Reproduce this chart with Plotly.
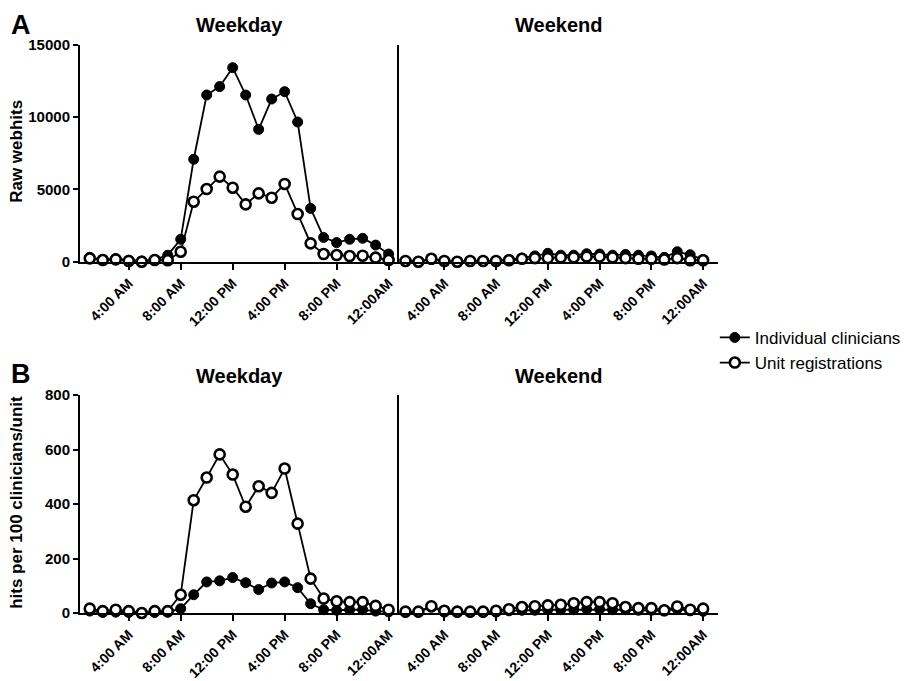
import plotly.graph_objects as go

hours = list(range(1, 25))
tick_hours = [4, 8, 12, 16, 20, 24]
tick_labels = ["4:00 AM", "8:00 AM", "12:00 PM", "4:00 PM", "8:00 PM", "12:00AM"]
series_names = ["Individual clinicians", "Unit registrations"]
period_names = ["Weekday", "Weekend"]
raw_ticks = [0, 5000, 10000, 15000]
norm_ticks = [0, 200, 400, 600, 800]

# Panel A: raw webhits
raw_weekday_indiv = [300, 150, 200, 100, 50, 150, 450, 1550, 7090, 11540, 12120, 13430,
                     11540, 9160, 11260, 11770, 9670, 3690, 1680, 1320, 1550, 1620, 1150, 530]
raw_weekday_unit = [230, 115, 160, 50, 0, 115, 100, 690, 4150, 5030, 5890, 5120,
                    3970, 4730, 4430, 5380, 3300, 1270, 530, 460, 390, 415, 280, 115]
raw_weekend_indiv = [50, 20, 150, 30, 20, 30, 40, 50, 150, 250, 400, 580,
                     450, 450, 550, 530, 450, 500, 450, 400, 300, 690, 480, 150]
raw_weekend_unit = [50, 0, 200, 50, 0, 50, 50, 50, 100, 200, 250, 250,
                    300, 300, 350, 350, 300, 250, 200, 200, 150, 250, 100, 100]

# Panel B: hits per 100 clinicians/unit
norm_weekday_indiv = [7, 2, 3, 2, 1, 2, 3, 16, 67, 114, 118, 130,
                      111, 86, 110, 114, 93, 34, 12, 10, 12, 12, 7, 4]
norm_weekday_unit = [16, 7, 12, 7, 0, 7, 7, 67, 414, 497, 582, 508,
                     390, 465, 441, 530, 328, 126, 53, 43, 40, 40, 26, 12]
norm_weekend_indiv = [3, 3, 22, 3, 2, 2, 2, 3, 8, 10, 10, 12,
                      12, 12, 14, 14, 12, 12, 10, 10, 8, 14, 8, 6]
norm_weekend_unit = [5, 5, 25, 8, 5, 5, 5, 8, 14, 22, 25, 28,
                     30, 36, 40, 40, 36, 22, 18, 18, 10, 24, 12, 16]

FONT = "Liberation Sans, Arial, sans-serif"

fig = go.Figure()

panels = [
    ("x", "y", raw_weekday_indiv, raw_weekday_unit, True),
    ("x2", "y2", raw_weekend_indiv, raw_weekend_unit, False),
    ("x3", "y3", norm_weekday_indiv, norm_weekday_unit, False),
    ("x4", "y4", norm_weekend_indiv, norm_weekend_unit, False),
]

for xa, ya, indiv, unit, show in panels:
    fig.add_trace(go.Scatter(
        x=hours, y=indiv, xaxis=xa, yaxis=ya, mode="lines+markers",
        name=series_names[0], showlegend=show, cliponaxis=False,
        line=dict(color="black", width=1.8),
        marker=dict(symbol="circle", size=10, color="black",
                    line=dict(color="black", width=1)),
    ))
    fig.add_trace(go.Scatter(
        x=hours, y=unit, xaxis=xa, yaxis=ya, mode="lines+markers",
        name=series_names[1], showlegend=show, cliponaxis=False,
        line=dict(color="black", width=1.8),
        marker=dict(symbol="circle", size=10, color="white",
                    line=dict(color="black", width=2.6)),
    ))

rowA = [0.6185, 1.0]
rowB = [0.0, 0.3838]

xcommon = dict(
    showline=True, linecolor="black", linewidth=2, showgrid=False, zeroline=False,
    ticks="outside", ticklen=6, tickwidth=2, tickcolor="black", automargin=False,
    tickvals=tick_hours, ticktext=tick_labels, tickangle=-45,
    tickfont=dict(family=FONT, size=14, color="black", weight="bold"),
)
ycommon = dict(
    showline=True, linecolor="black", linewidth=2, showgrid=False, zeroline=False,
    ticks="outside", ticklen=5, tickwidth=2, tickcolor="black", automargin=False,
    tickfont=dict(family=FONT, size=15, color="black", weight="bold"),
)
yside = dict(showline=True, linecolor="black", linewidth=2, showgrid=False, zeroline=False,
             showticklabels=False, ticks="", automargin=False)

# page body adds an 8px margin, so the figure is 8px smaller and margins shifted
fig.update_layout(
    width=911, height=673,
    margin=dict(l=72, r=201, t=37, b=68, autoexpand=False),
    paper_bgcolor="white", plot_bgcolor="white",
    font=dict(family=FONT, color="black"),
    xaxis=dict(domain=[0, 0.5], range=[0.25, 24.8], anchor="y", **xcommon),
    xaxis2=dict(domain=[0.5, 1], range=[0.5, 25.15], anchor="y2", **xcommon),
    xaxis3=dict(domain=[0, 0.5], range=[0.25, 24.8], anchor="y3", **xcommon),
    xaxis4=dict(domain=[0.5, 1], range=[0.5, 25.15], anchor="y4", **xcommon),
    yaxis=dict(domain=rowA, range=[0, 15000], anchor="x", tickvals=raw_ticks,
               ticktext=[str(v) for v in raw_ticks], **ycommon),
    yaxis2=dict(domain=rowA, range=[0, 15000], anchor="x2", **yside),
    yaxis3=dict(domain=rowB, range=[0, 800], anchor="x3", tickvals=norm_ticks,
                ticktext=[str(v) for v in norm_ticks], **ycommon),
    yaxis4=dict(domain=rowB, range=[0, 800], anchor="x4", **yside),
    legend=dict(x=0.995, y=0.516, xanchor="left", yanchor="top",
                font=dict(family=FONT, size=17, color="black"),
                bgcolor="rgba(0,0,0,0)", tracegroupgap=0, itemwidth=30),
)

ann = []
for i, name in enumerate(period_names):
    for ypos in (1.035, 0.417):
        ann.append(dict(text=name, x=0.25 + 0.5 * i, y=ypos, xref="paper", yref="paper",
                        showarrow=False, xanchor="center", yanchor="middle",
                        font=dict(family=FONT, size=20, color="black", weight="bold")))
ann.append(dict(text="A", x=-0.092, y=1.0, yshift=37, xref="paper", yref="paper",
                showarrow=False, xanchor="center", yanchor="top",
                font=dict(family=FONT, size=27, color="black", weight="bold")))
ann.append(dict(text="B", x=-0.092, y=0.42, xref="paper", yref="paper", showarrow=False,
                xanchor="center", yanchor="middle",
                font=dict(family=FONT, size=27, color="black", weight="bold")))
ann.append(dict(text="Raw webhits", x=-0.0987, y=0.812, xref="paper", yref="paper",
                showarrow=False, textangle=-90, xanchor="center", yanchor="middle",
                font=dict(family=FONT, size=17, color="black", weight="bold")))
ann.append(dict(text="hits per 100 clinicians/unit", x=-0.0987, y=0.194, xref="paper",
                yref="paper", showarrow=False, textangle=-90, xanchor="center", yanchor="middle",
                font=dict(family=FONT, size=17, color="black", weight="bold")))
fig.update_layout(annotations=ann)

fig.write_html("out.html")
